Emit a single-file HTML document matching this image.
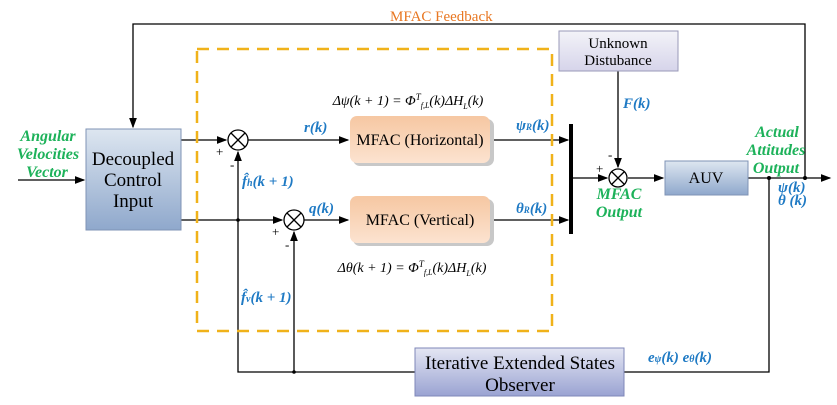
<!DOCTYPE html>
<html><head><meta charset="utf-8"><style>
body{margin:0;background:#fff}
svg{display:block}
text{font-family:"Liberation Serif",serif}
.lb{fill:#1f7ac4;font-weight:bold;font-style:italic;font-size:15px}
.gr{fill:#1db25a;font-weight:bold;font-style:italic;font-size:16px}
</style></head><body>
<svg width="837" height="405" viewBox="0 0 837 405">
<defs>
<marker id="a" markerWidth="8" markerHeight="6" refX="7" refY="3" orient="auto"><path d="M0,0 L8,3 L0,6 z" fill="#000"/></marker>
<linearGradient id="gb" x1="0" y1="0" x2="0" y2="1"><stop offset="0" stop-color="#dde6f0"/><stop offset="1" stop-color="#8fa8cc"/></linearGradient>
<linearGradient id="gi" x1="0" y1="0" x2="0" y2="1"><stop offset="0" stop-color="#e4e6f3"/><stop offset="1" stop-color="#9aa3d2"/></linearGradient>
<linearGradient id="gu" x1="0" y1="0" x2="0" y2="1"><stop offset="0" stop-color="#f3f3f8"/><stop offset="1" stop-color="#d6d4ea"/></linearGradient>
<linearGradient id="go" x1="0" y1="0" x2="0" y2="1"><stop offset="0" stop-color="#f6c7a2"/><stop offset="1" stop-color="#fce3d0"/></linearGradient>
</defs>
<g stroke="#000" stroke-width="1.3" fill="none">
<polyline points="805,178 805,24 133,24 133,127" marker-end="url(#a)"/>
<line x1="18" y1="180" x2="84" y2="180" marker-end="url(#a)"/>
<line x1="181" y1="140" x2="226" y2="140" marker-end="url(#a)"/>
<line x1="181" y1="220" x2="282" y2="220" marker-end="url(#a)"/>
<line x1="248" y1="140" x2="348" y2="140" marker-end="url(#a)"/>
<line x1="304" y1="220" x2="348" y2="220" marker-end="url(#a)"/>
<line x1="491" y1="140" x2="568" y2="140" marker-end="url(#a)"/>
<line x1="491" y1="220" x2="568" y2="220" marker-end="url(#a)"/>
<line x1="572" y1="178" x2="607" y2="178" marker-end="url(#a)"/>
<line x1="618" y1="71" x2="618" y2="167" marker-end="url(#a)"/>
<line x1="628" y1="178" x2="663" y2="178" marker-end="url(#a)"/>
<line x1="748" y1="178" x2="830" y2="178" marker-end="url(#a)"/>
<polyline points="769,178 769,372 548,372" marker-end="url(#a)"/>
<polyline points="415,372 238,372 238,152" marker-end="url(#a)"/>
<line x1="294" y1="372" x2="294" y2="232" marker-end="url(#a)"/>
<circle cx="238" cy="140" r="10" fill="#fff"/>
<path d="M231,133 L245,147 M245,133 L231,147"/>
<circle cx="294" cy="220" r="10" fill="#fff"/>
<path d="M287,213 L301,227 M301,213 L287,227"/>
<circle cx="618" cy="178" r="9" fill="#fff"/>
<path d="M612,172 L624,184 M624,172 L612,184"/>
</g>
<circle cx="238" cy="220" r="1.8"/><circle cx="294" cy="372" r="1.8"/><circle cx="769" cy="178" r="2"/><circle cx="805" cy="178" r="2"/>
<rect x="569" y="124" width="4" height="110" fill="#000"/>
<rect x="197" y="49" width="355" height="282" fill="none" stroke="#f0b21a" stroke-width="2.5" stroke-dasharray="12,8"/>
<rect x="86" y="129" width="95" height="101" fill="url(#gb)" stroke="#7f93b5"/>
<text x="133" y="165" font-size="19" text-anchor="middle">Decoupled</text>
<text x="133" y="186" font-size="19" text-anchor="middle">Control</text>
<text x="133" y="207" font-size="19" text-anchor="middle">Input</text>
<rect x="353" y="119" width="141" height="47" rx="7" fill="#c8c8c8"/>
<rect x="350" y="116" width="140" height="47" rx="7" fill="url(#go)"/>
<text x="420" y="145" font-size="16" text-anchor="middle">MFAC (Horizontal)</text>
<rect x="353" y="199" width="141" height="47" rx="7" fill="#c8c8c8"/>
<rect x="350" y="196" width="140" height="47" rx="7" fill="url(#go)"/>
<text x="420" y="225" font-size="16" text-anchor="middle">MFAC (Vertical)</text>
<rect x="559" y="31" width="119" height="40" fill="url(#gu)" stroke="#9a9ab8"/>
<text x="618" y="48" font-size="15" text-anchor="middle">Unknown</text>
<text x="618" y="65" font-size="15" text-anchor="middle">Distubance</text>
<rect x="665" y="161" width="83" height="34" fill="url(#gb)" stroke="#7f93b5"/>
<text x="706" y="183" font-size="16" text-anchor="middle">AUV</text>
<rect x="415" y="348" width="209" height="48" fill="url(#gi)" stroke="#7f87b8"/>
<text x="520" y="369" font-size="19" text-anchor="middle">Iterative Extended States</text>
<text x="520" y="391" font-size="19" text-anchor="middle">Observer</text>
<text x="390" y="21" font-size="15" fill="#e87722">MFAC Feedback</text>
<text x="408" y="105" font-size="14" text-anchor="middle" font-style="italic">Δψ(k + 1) = Φ<tspan font-size="9" dy="-5">T</tspan><tspan font-size="8" dy="8">f,L</tspan><tspan dy="-3">(k)ΔH</tspan><tspan font-size="8" dy="4">L</tspan><tspan dy="-4">(k)</tspan></text>
<text x="412" y="272" font-size="14" text-anchor="middle" font-style="italic">Δθ(k + 1) = Φ<tspan font-size="9" dy="-5">T</tspan><tspan font-size="8" dy="8">f,L</tspan><tspan dy="-3">(k)ΔH</tspan><tspan font-size="8" dy="4">L</tspan><tspan dy="-4">(k)</tspan></text>
<text class="lb" x="304" y="132">r(k)</text>
<text class="lb" x="309" y="213">q(k)</text>
<text class="lb" x="516" y="130">ψ<tspan font-size="9">R</tspan>(k)</text>
<text class="lb" x="516" y="213">θ<tspan font-size="9">R</tspan>(k)</text>
<text class="lb" x="623" y="108">F(k)</text>
<text class="lb" x="242" y="186">f̂<tspan font-size="10">h</tspan>(k + 1)</text>
<text class="lb" x="241" y="302">f̂<tspan font-size="10">v</tspan>(k + 1)</text>
<text class="lb" x="648" y="362">e<tspan font-size="10">ψ</tspan>(k)  e<tspan font-size="10">θ</tspan>(k)</text>
<text class="lb" x="778" y="192">ψ(k)</text>
<text class="lb" x="778" y="205">θ (k)</text>
<text class="gr" x="48" y="141" text-anchor="middle">Angular</text>
<text class="gr" x="48" y="159" text-anchor="middle">Velocities</text>
<text class="gr" x="47" y="177" text-anchor="middle">Vector</text>
<text class="gr" x="777" y="137" text-anchor="middle">Actual</text>
<text class="gr" x="776" y="155" text-anchor="middle">Attitudes</text>
<text class="gr" x="776" y="173" text-anchor="middle">Output</text>
<text class="gr" x="619" y="199" text-anchor="middle">MFAC</text>
<text class="gr" x="619" y="217" text-anchor="middle">Output</text>
<g font-size="13" font-family="Liberation Sans">
<text x="216" y="156">+</text><text x="230" y="169">-</text>
<text x="272" y="236">+</text><text x="285" y="249">-</text>
<text x="596" y="173">+</text><text x="608" y="159">-</text>
</g>
</svg>
</body></html>
